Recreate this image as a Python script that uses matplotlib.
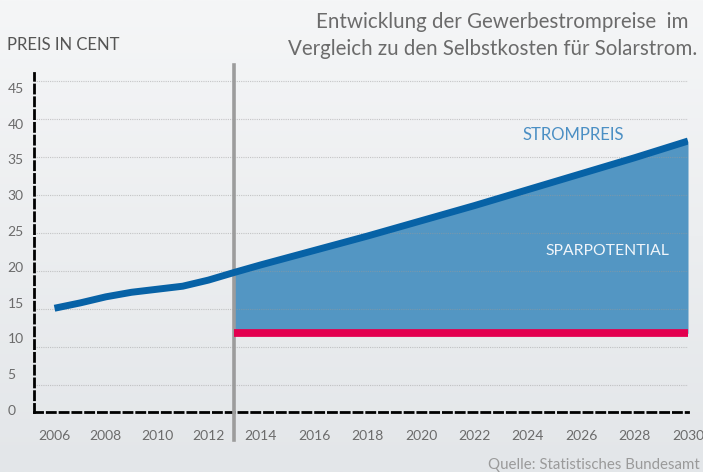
import numpy as np
import matplotlib
matplotlib.use("Agg")
import matplotlib.pyplot as plt
from matplotlib.colors import LinearSegmentedColormap

# historische Gewerbestrompreise (ct/kWh)
hist_years = [2006, 2007, 2008, 2009, 2010, 2011, 2012, 2013]
hist_price = [15.1, 15.8, 16.6, 17.2, 17.6, 18.0, 18.8, 19.8]

# Prognose bis 2030
proj_years = [2013, 2014, 2016, 2018, 2020, 2022, 2024, 2026, 2028, 2030]
proj_price = [19.8, 20.8, 22.7, 24.6, 26.6, 28.6, 30.7, 32.8, 34.9, 37.1]

# Selbstkosten Solarstrom
solar_cost = 11.8

grid_vals = [5, 10, 15, 20, 25, 30, 35, 40, 45]
y_labels = ["0", "5", "10", "15", "20", "25", "30", "35", "40", "45"]
x_ticks = [2006, 2008, 2010, 2012, 2014, 2016, 2018, 2020, 2022, 2024, 2026, 2028, 2030]

SPLIT = 2013
C_LINE = "#0762a6"
C_FILL = "#5396c3"
C_RED = "#e3004f"
C_TEXT = "#6b6b6b"

plt.rcParams["font.family"] = ["Lato", "DejaVu Sans"]
plt.rcParams["lines.scale_dashes"] = False

fig = plt.figure(figsize=(7.03, 4.72), dpi=100)

# Hintergrundverlauf
bg = fig.add_axes([0, 0, 1, 1], zorder=-10)
cmap = LinearSegmentedColormap.from_list("bg", ["#f5f6f7", "#e3e6e9"])
bg.imshow(np.linspace(0, 1, 256).reshape(-1, 1), aspect="auto", cmap=cmap,
          extent=[0, 1, 0, 1])
bg.set_axis_off()

W, H = 703, 472
ax = fig.add_axes([34 / W, (H - 412) / H, (688 - 34) / W, (412 - 73) / H])
ax.patch.set_visible(False)

# Vergangenheit etwas enger skaliert als die Prognose
k = 0.96
fwd = lambda x: np.where(np.asarray(x) < SPLIT, SPLIT - (SPLIT - np.asarray(x)) * k, x)
inv = lambda x: np.where(np.asarray(x) < SPLIT, SPLIT - (SPLIT - np.asarray(x)) / k, x)
ax.set_xscale("function", functions=(fwd, inv))
ax.set_xlim(2005.2, 2030)
ax.set_ylim(1.45, 46.05)

# Sparpotential-Fläche
ax.fill_between(proj_years, solar_cost, proj_price, color=C_FILL, lw=0, zorder=1)

for v in grid_vals:
    ax.axhline(v, color="#9a9a9a", alpha=0.5, lw=0.8, ls=(0, (0.8, 0.8)), zorder=2)

ax.axvline(SPLIT, ymin=-0.083, ymax=1.024, color="#9c9c9c", lw=2.6,
           clip_on=False, zorder=3)
ax.plot([SPLIT, 2030], [solar_cost, solar_cost], color=C_RED, lw=5.6,
        solid_capstyle="butt", zorder=4)
ax.plot(hist_years + proj_years[1:], hist_price + proj_price[1:], color=C_LINE,
        lw=5.0, solid_capstyle="butt", solid_joinstyle="round", zorder=5)

for side in ("top", "right"):
    ax.spines[side].set_visible(False)
for side in ("left", "bottom"):
    ax.spines[side].set_linestyle((0, (5.8, 3.4)))
    ax.spines[side].set_linewidth(2.0)
    ax.spines[side].set_color("black")

# Achsenbeschriftung: Beschriftungen leicht gestaucht gegenüber dem Raster
ax.set_xticks(x_ticks, [str(x) for x in x_ticks])
ax.set_yticks([1.71 + 4.71 * i for i in range(len(y_labels))], y_labels)
ax.tick_params(axis="both", length=0, labelsize=10, labelcolor=C_TEXT)
ax.tick_params(axis="x", pad=13)
ax.tick_params(axis="y", pad=19)
for lbl in ax.get_yticklabels():
    lbl.set_horizontalalignment("left")
ax.minorticks_off()

ax.text(2025.7, 37.9, "STROMPREIS", color="#4b8fc4", fontsize=12,
        ha="center", va="center")
ax.text(2027.0, 22.6, "SPARPOTENTIAL", color="#f0f5fa", fontsize=11.3,
        ha="center", va="center")

fig.text(7 / W, 1 - 45 / H, "PREIS IN CENT", color="#555555", fontsize=12,
         ha="left", va="center")
fig.text(688 / W, 1 - 22 / H, "Entwicklung der Gewerbestrompreise  im",
         color=C_TEXT, fontsize=14.8, ha="right", va="center")
fig.text(697 / W, 1 - 49 / H, "Vergleich zu den Selbstkosten für Solarstrom.",
         color=C_TEXT, fontsize=14.8, ha="right", va="center")
fig.text(700 / W, 1 - 465 / H, "Quelle: Statistisches Bundesamt", color="#9a9a9a",
         fontsize=10.8, ha="right", va="center")

fig.savefig("out.png", dpi=100)
